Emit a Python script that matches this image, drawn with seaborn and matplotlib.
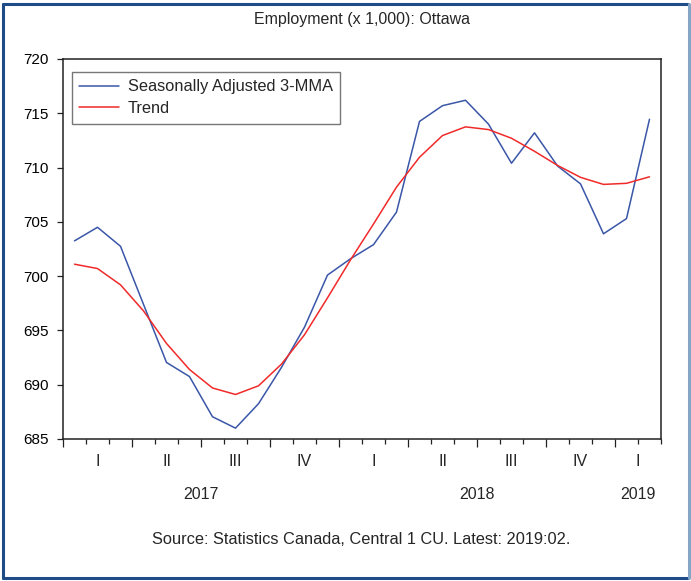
import numpy as np
import pandas as pd
import seaborn as sns
import matplotlib.pyplot as plt
from matplotlib.lines import Line2D
from matplotlib.ticker import MultipleLocator, NullFormatter
import matplotlib.transforms as mtransforms

# ------------------------------------------------------------
# data : monthly, Jan 2017 -> Feb 2019
# ------------------------------------------------------------
months = pd.period_range("2017-01", "2019-02", freq="M")

sa_3mma = [703.25, 704.5, 702.75, 697.4, 692.05, 690.75, 687.05, 686.0, 688.25,
           691.6, 695.3, 700.1, 701.6, 702.9, 705.9, 714.25, 715.7, 716.2,
           714.0, 710.4, 713.2, 710.15, 708.5, 703.9, 705.3, 714.45]
trend = [701.1, 700.7, 699.2, 696.8, 693.8, 691.4, 689.7, 689.1, 689.9,
         691.9, 694.6, 698.0, 701.5, 704.8, 708.2, 710.95, 712.95, 713.75,
         713.5, 712.7, 711.5, 710.2, 709.1, 708.45, 708.55, 709.15]

quarter_labels = ["I", "II", "III", "IV"]
title = "Employment (x 1,000): Ottawa"
source = "Source: Statistics Canada, Central 1 CU. Latest: 2019:02."

# month index -> x position at centre of the month
x = np.arange(len(months)) + 0.5
df = pd.DataFrame({
    "x": np.concatenate([x, x]),
    "value": sa_3mma + trend,
    "series": ["Seasonally Adjusted 3-MMA"] * len(x) + ["Trend"] * len(x),
})

# ------------------------------------------------------------
# figure
# ------------------------------------------------------------
sns.set_theme(style="ticks")
plt.rcParams["font.family"] = ["Liberation Sans", "DejaVu Sans"]

fig = plt.figure(figsize=(6.91, 5.81), dpi=100)
ax = fig.add_axes([63 / 691, 1 - 439 / 581, 598 / 691, 380 / 581])

sns.lineplot(data=df, x="x", y="value", hue="series",
             palette={"Seasonally Adjusted 3-MMA": "#3a56a8", "Trend": "#f02a2a"},
             linewidth=1.1, ax=ax)

ax.set_xlim(0, len(months))
ax.set_ylim(685, 720)
ax.yaxis.set_major_locator(MultipleLocator(5))
ax.set_xlabel("")
ax.set_ylabel("")

for sp in ax.spines.values():
    sp.set_visible(True)
    sp.set_color("#222222")
    sp.set_linewidth(1.1)

ax.tick_params(axis="y", direction="out", length=4.5, width=0.9, colors="#222222",
               labelsize=11, labelcolor="black", pad=6)

# x axis: major at quarter boundaries, minor at month boundaries
ax.xaxis.set_major_locator(MultipleLocator(3))
ax.xaxis.set_minor_locator(MultipleLocator(1))
ax.xaxis.set_major_formatter(NullFormatter())
ax.tick_params(axis="x", which="major", direction="out", length=6, width=0.9, colors="#222222")
ax.tick_params(axis="x", which="minor", direction="out", length=3.5, width=0.9, colors="#222222")

# quarter + year labels
trans = mtransforms.blended_transform_factory(ax.transData, ax.transAxes)
n = len(months)
for i, m in enumerate(months):
    if (m.month - 1) % 3 == 0:
        end = min(i + 3, n)
        ax.text((i + end) / 2, -0.06, quarter_labels[(m.month - 1) // 3], transform=trans,
                ha="center", va="center", fontsize=11.5)
for yr in sorted(set(m.year for m in months)):
    idx = [i for i, m in enumerate(months) if m.year == yr]
    ax.text((idx[0] + idx[-1] + 1) / 2, -0.147, str(yr), transform=trans,
            ha="center", va="center", fontsize=11.5)

leg = ax.legend(loc="upper left", bbox_to_anchor=(0.015, 0.966), borderaxespad=0,
                frameon=True, fancybox=False, edgecolor="#555555", fontsize=11.8,
                handlelength=2.4, borderpad=0.45, labelspacing=0.42, handletextpad=0.55)
leg.get_frame().set_linewidth(1.0)

ax.set_title(title, fontsize=11.5, pad=25)
fig.text(0.522, 1 - 540 / 581, source, ha="center", va="center", fontsize=11.8)

# outer border
for (xs, ys, c) in [([0.004, 0.996], [0.993, 0.993], "#1f4c86"),
                    ([0.004, 0.004], [0.005, 0.993], "#1f4c86"),
                    ([0.004, 0.996], [0.005, 0.005], "#1f4c86"),
                    ([0.997, 0.997], [0.005, 0.993], "#86a6c8")]:
    fig.add_artist(Line2D(xs, ys, transform=fig.transFigure, color=c, linewidth=2.2))

fig.savefig("out.png", dpi=100)
